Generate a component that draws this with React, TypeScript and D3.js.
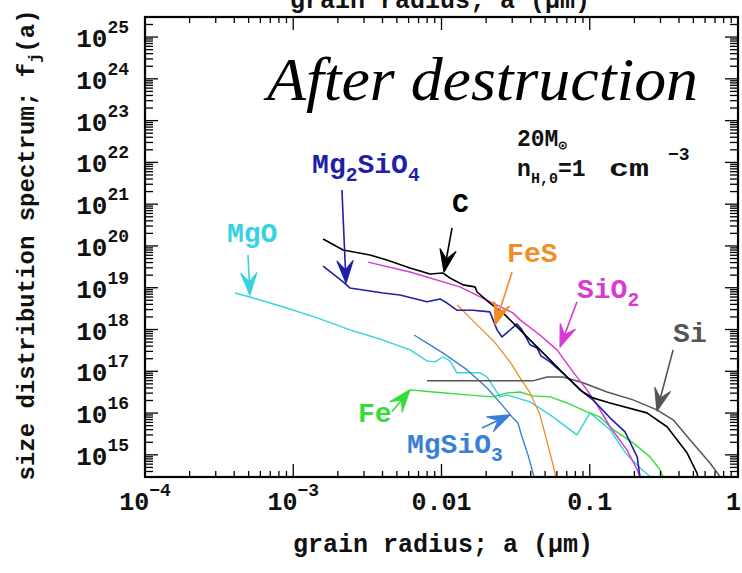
import React from "react";
import * as d3 from "d3";

// Plot frame (pixels)
const W = 742;
const H = 573;
const FRAME = { left: 145, right: 738, top: 17, bottom: 477 };

// Axis domains: grain radius (um) and size distribution f_j(a)
const X_DOMAIN: [number, number] = [1e-4, 1];
const Y_DOMAIN: [number, number] = [Math.pow(10, 14.47), Math.pow(10, 25.48)];

// Tick labels
const xTickValues = [1e-4, 1e-3, 0.01, 0.1, 1];
const xTickBase = ["10", "10", "0.01", "0.1", "1"];
const xTickExp = ["\u22124", "\u22123", "", "", ""];
const yTickExponents = [15, 16, 17, 18, 19, 20, 21, 22, 23, 24, 25];

// Size distributions after destruction, [a (um), f_j(a)]
const carbon: [number, number][] = [
  [1.59e-3, 1.47e20], [2.17e-3, 8.0e19], [3.29e-3, 6.1e19], [4.28e-3, 4.6e19],
  [6.13e-3, 2.98e19], [8.36e-3, 2.14e19], [0.0102, 2.26e19], [0.0114, 1.71e19],
  [0.014, 1.17e19], [0.0168, 1.05e19], [0.0174, 7.9e18], [0.0212, 4.3e18],
  [0.026, 2.5e18], [0.0339, 9.8e17], [0.0414, 4.8e17], [0.054, 1.87e17],
  [0.0703, 7.3e16], [0.0899, 3.2e16], [0.105, 2.31e16], [0.137, 1.75e16],
  [0.243, 1.01e16], [0.332, 4.7e15], [0.453, 1.12e15], [0.528, 3.7e14], [0.537, 3.0e14],
];

const forsterite: [number, number][] = [
  [1.59e-3, 3.3e19], [2.17e-3, 1.38e19], [2.41e-3, 9.9e18], [4.03e-3, 7.5e18],
  [5.25e-3, 6.7e18], [7.98e-3, 4.6e18], [9.77e-3, 5.4e18], [0.0109, 4.3e18],
  [0.0127, 2.9e18], [0.0163, 2.9e18], [0.0212, 2.64e18], [0.0237, 9.8e17],
  [0.0256, 6.65e17], [0.0323, 1.36e18], [0.0349, 9.8e17], [0.0396, 4.3e17],
  [0.0441, 3.6e17], [0.0469, 2.33e17], [0.054, 1.68e17], [0.0703, 7.3e16],
  [0.0859, 3.6e16], [0.105, 2.07e16], [0.137, 7.7e15], [0.173, 3.55e15],
  [0.209, 8.96e14], [0.218, 3.0e14],
];

const silica: [number, number][] = [
  [3.19e-3, 4.1e19], [6.13e-3, 2.39e19], [0.0133, 1.05e19], [0.0222, 4.3e18],
  [0.0303, 2.5e18], [0.0339, 1.7e18], [0.0461, 7.4e17], [0.0601, 3.25e17],
  [0.0771, 9.7e16], [0.0957, 3.6e16], [0.112, 1.57e16], [0.137, 4.7e15],
  [0.178, 1.32e15], [0.209, 4.4e14], [0.218, 3.0e14],
];

const troilite: [number, number][] = [
  [0.0127, 3.9e18], [0.0174, 1.29e18], [0.023, 4.8e17], [0.029, 1.68e17],
  [0.0339, 6.95e16], [0.0396, 3.04e16], [0.0461, 9.1e15], [0.0522, 1.73e15],
  [0.0565, 5.8e14], [0.0591, 3.0e14],
];

const periclase: [number, number][] = [
  [4.05e-4, 7.5e18], [5.1e-4, 6.0e18], [8.5e-4, 3.5e18], [1.45e-3, 1.9e18],
  [2.41e-3, 9.8e17], [4.03e-3, 5.6e17], [6.13e-3, 3.25e17], [7.98e-3, 1.77e17],
  [9.04e-3, 1.68e17], [0.0102, 2.2e17], [0.0114, 1.77e17], [0.0127, 9.2e16],
  [0.0182, 9.2e16], [0.0203, 7.3e16], [0.0248, 2.44e16], [0.0277, 2.72e16],
  [0.0396, 1.85e16], [0.0565, 8.1e15], [0.082, 3.0e15], [0.1005, 1.01e16],
  [0.137, 4.0e15], [0.178, 1.0e15], [0.218, 4.9e14], [0.255, 3.0e14],
];

const iron: [number, number][] = [
  [6.13e-3, 3.6e16], [8.77e-3, 3.2e16], [0.0149, 2.72e16], [0.0222, 2.44e16],
  [0.0277, 3.04e16], [0.0339, 3.2e16], [0.0414, 2.58e16], [0.054, 2.44e16],
  [0.0703, 1.75e16], [0.0957, 1.07e16], [0.117, 8.1e15], [0.144, 4.0e15],
  [0.196, 1.94e15], [0.255, 8.96e14], [0.298, 4.4e14], [0.312, 3.0e14],
];

const silicon: [number, number][] = [
  [7.98e-3, 5.9e16], [0.0414, 5.9e16], [0.0515, 7.3e16], [0.0661, 7.3e16],
  [0.0899, 5.3e16], [0.131, 3.2e16], [0.196, 2.07e16], [0.284, 1.19e16],
  [0.365, 6.9e15], [0.474, 2.29e15], [0.647, 6.4e14], [0.757, 3.0e14],
];

const enstatite: [number, number][] = [
  [6.53e-3, 7.4e17], [8.36e-3, 4.3e17], [0.0102, 2.75e17], [0.0149, 1.08e17],
  [0.0203, 4.0e16], [0.0256, 1.57e16], [0.0299, 8.1e15], [0.0328, 5.8e15],
  [0.0349, 2.7e15], [0.0383, 1.0e15], [0.0421, 3.0e14],
];

type Part = [string, "" | "sub" | "sup"];

interface Species {
  data: [number, number][];
  color: string;
  width: number;
  label: Part[];
  labelAt: [number, number]; // [a, f] of label's left baseline
  arrowFrom: [number, number];
  arrowTo: [number, number];
}

const species: Species[] = [
  {
    data: periclase, color: "#35d3df", width: 1.4,
    label: [["MgO", ""]], labelAt: [3.57e-4, 1.25e20],
    arrowFrom: [4.95e-4, 6.1e19], arrowTo: [5.1e-4, 6.7e18],
  },
  {
    data: enstatite, color: "#3a7fd6", width: 1.4,
    label: [["MgSiO", ""], ["3", "sub"]], labelAt: [5.85e-3, 1.12e15],
    arrowFrom: [0.01875, 4.4e15], arrowTo: [0.029, 9.1e15],
  },
  {
    data: iron, color: "#33dd33", width: 1.4,
    label: [["Fe", ""]], labelAt: [2.73e-3, 6.15e15],
    arrowFrom: [4.63e-3, 1.07e16], arrowTo: [6.13e-3, 3.6e16],
  },
  {
    data: troilite, color: "#f08d24", width: 1.3,
    label: [["FeS", ""]], labelAt: [0.0277, 4.1e19],
    arrowFrom: [0.0299, 2.39e19], arrowTo: [0.023, 1.29e18],
  },
  {
    data: silicon, color: "#555555", width: 1.5,
    label: [["Si", ""]], labelAt: [0.365, 5.05e17],
    arrowFrom: [0.365, 3.25e17], arrowTo: [0.284, 1.13e16],
  },
  {
    data: silica, color: "#d83ad2", width: 1.5,
    label: [["SiO", ""], ["2", "sub"]], labelAt: [0.082, 5.7e18],
    arrowFrom: [0.082, 4.6e18], arrowTo: [0.063, 3.8e17],
  },
  {
    data: forsterite, color: "#1f1fa8", width: 1.6,
    label: [["Mg", ""], ["2", "sub"], ["SiO", ""], ["4", "sub"]], labelAt: [1.34e-3, 5.6e21],
    arrowFrom: [2.13e-3, 2.19e21], arrowTo: [2.27e-3, 1.3e19],
  },
  {
    data: carbon, color: "#000000", width: 1.6,
    label: [["C", ""]], labelAt: [0.01178, 6.5e20],
    arrowFrom: [0.01178, 2.7e20], arrowTo: [0.0104, 2.39e19],
  },
];

const MONO = "'Liberation Mono', 'DejaVu Sans Mono', monospace";

function Arrow({ x0, y0, x1, y1, color }: { x0: number; y0: number; x1: number; y1: number; color: string }) {
  const dx = x1 - x0;
  const dy = y1 - y0;
  const len = Math.hypot(dx, dy);
  const ux = dx / len;
  const uy = dy / len;
  const nx = -uy;
  const ny = ux;
  const L = 22;
  const w = 8;
  const notch = 13;
  const lx = x1 - L * ux + w * nx;
  const ly = y1 - L * uy + w * ny;
  const rx = x1 - L * ux - w * nx;
  const ry = y1 - L * uy - w * ny;
  const mx = x1 - notch * ux;
  const my = y1 - notch * uy;
  return (
    <g>
      <line x1={x0} y1={y0} x2={mx} y2={my} stroke={color} strokeWidth={1.6} />
      <path d={`M${x1},${y1}L${lx},${ly}L${mx},${my}L${rx},${ry}Z`} fill={color} stroke={color} strokeWidth={1.2} strokeLinejoin="round" />
    </g>
  );
}

function Label({ x, y, parts, color, size }: { x: number; y: number; parts: Part[]; color: string; size: number }) {
  let shift = 0;
  const spans = parts.map(([t, kind], i) => {
    const target = kind === "sub" ? size * 0.3 : kind === "sup" ? -size * 0.45 : 0;
    const dy = target - shift;
    shift = target;
    return (
      <tspan key={i} dy={dy} fontSize={kind ? size * 0.7 : size}>
        {t}
      </tspan>
    );
  });
  return (
    <text x={x} y={y} fill={color} fontFamily={MONO} fontWeight="bold" fontSize={size}>
      {spans}
    </text>
  );
}

export default function App() {
  const x = d3.scaleLog().domain(X_DOMAIN).range([FRAME.left, FRAME.right]);
  const y = d3.scaleLog().domain(Y_DOMAIN).range([FRAME.bottom, FRAME.top]);

  const line = d3
    .line<[number, number]>()
    .x((d) => x(d[0]))
    .y((d) => y(d[1]));

  // Minor and major tick positions
  const xTicks: { v: number; major: boolean }[] = [];
  for (let e = -4; e <= 0; e++) {
    for (let m = 1; m <= 9; m++) {
      const v = m * Math.pow(10, e);
      if (v >= X_DOMAIN[0] * 0.999 && v <= X_DOMAIN[1] * 1.001) xTicks.push({ v, major: m === 1 });
    }
  }
  const yTicks: { v: number; major: boolean }[] = [];
  for (let e = 14; e <= 25; e++) {
    for (let m = 1; m <= 9; m++) {
      const v = m * Math.pow(10, e);
      if (v >= Y_DOMAIN[0] && v <= Y_DOMAIN[1]) yTicks.push({ v, major: m === 1 });
    }
  }

  const plotW = FRAME.right - FRAME.left;
  const plotH = FRAME.bottom - FRAME.top;
  const lastTick = xTickValues.length - 1;

  return (
    <svg
      width={W}
      height={H}
      viewBox={`0 0 ${W} ${H}`}
      style={{ position: "absolute", left: 0, top: 0, background: "#ffffff" }}
    >
      <rect x={0} y={0} width={W} height={H} fill="#ffffff" />
      <defs>
        <clipPath id="plot-clip">
          <rect x={FRAME.left} y={FRAME.top} width={plotW} height={plotH} />
        </clipPath>
      </defs>

      {/* axis title of the panel above, running off the page top */}
      <text x={440} y={8} textAnchor="middle" fontFamily={MONO} fontWeight="bold" fontSize={25} fill="#111">
        grain radius; a (μm)
      </text>

      {/* size distribution curves */}
      <g clipPath="url(#plot-clip)">
        {species.map((s, i) => (
          <path key={i} d={line(s.data) || ""} fill="none" stroke={s.color} strokeWidth={s.width} strokeLinejoin="round" />
        ))}
      </g>

      {/* ticks on all four sides */}
      <g stroke="#000" strokeWidth={1.3}>
        {xTicks.map((t, i) => {
          const px = x(t.v);
          const len = t.major ? 13 : 6;
          return (
            <g key={i}>
              <line x1={px} x2={px} y1={FRAME.bottom} y2={FRAME.bottom - len} />
              <line x1={px} x2={px} y1={FRAME.top} y2={FRAME.top + len} />
            </g>
          );
        })}
        {yTicks.map((t, i) => {
          const py = y(t.v);
          const len = t.major ? 13 : 8;
          return (
            <g key={i}>
              <line x1={FRAME.left} x2={FRAME.left + len} y1={py} y2={py} />
              <line x1={FRAME.right} x2={FRAME.right - len} y1={py} y2={py} />
            </g>
          );
        })}
      </g>
      <rect x={FRAME.left} y={FRAME.top} width={plotW} height={plotH} fill="none" stroke="#000" strokeWidth={2.2} />

      {/* y tick labels */}
      {yTickExponents.map((e) => {
        const py = y(Math.pow(10, e));
        return (
          <text key={e} x={129} y={py + 10} textAnchor="end" fontFamily={MONO} fontWeight="bold" fontSize={26} fill="#111">
            <tspan>10</tspan>
            <tspan dy={-14} fontSize={18}>{e}</tspan>
          </text>
        );
      })}

      {/* x tick labels (the last one kept inside the page edge) */}
      {xTickValues.map((v, i) => (
        <text
          key={i}
          x={i === lastTick ? W - 1 : x(v)}
          y={510}
          textAnchor={i === lastTick ? "end" : "middle"}
          fontFamily={MONO}
          fontWeight="bold"
          fontSize={25}
          fill="#111"
        >
          <tspan>{xTickBase[i]}</tspan>
          {xTickExp[i] ? (
            <tspan dy={-14} fontSize={18}>{xTickExp[i]}</tspan>
          ) : null}
        </text>
      ))}

      {/* axis titles */}
      <text x={443} y={552} textAnchor="middle" fontFamily={MONO} fontWeight="bold" fontSize={25} fill="#111">
        grain radius; a (μm)
      </text>
      <text
        transform="translate(34,245) rotate(-90)"
        textAnchor="middle"
        fontFamily={MONO}
        fontWeight="bold"
        fontSize={24}
        fill="#111"
      >
        <tspan>size distribution spectrum; f</tspan>
        <tspan dy={6} fontSize={17}>j</tspan>
        <tspan dy={-6}>(a)</tspan>
      </text>

      {/* species labels and arrows */}
      {species.map((s, i) => (
        <g key={i}>
          <Arrow
            x0={x(s.arrowFrom[0])}
            y0={y(s.arrowFrom[1])}
            x1={x(s.arrowTo[0])}
            y1={y(s.arrowTo[1])}
            color={s.color}
          />
          <Label x={x(s.labelAt[0])} y={y(s.labelAt[1])} parts={s.label} color={s.color} size={28} />
        </g>
      ))}

      {/* model parameters */}
      <text x={517} y={146} fontFamily={MONO} fontWeight="bold" fontSize={23} fill="#111">
        <tspan>20M</tspan>
        <tspan dy={4} fontSize={14}>⊙</tspan>
      </text>
      <text y={176} fontFamily={MONO} fontWeight="bold" fontSize={23} fill="#111">
        <tspan x={517}>n</tspan>
        <tspan x={531} dy={7} fontSize={15}>H,0</tspan>
        <tspan x={558} dy={-7}>=1</tspan>
        <tspan x={609} textLength={40} lengthAdjust="spacingAndGlyphs">cm</tspan>
        <tspan x={668} dy={-16} fontSize={18}>−3</tspan>
      </text>

      {/* panel title */}
      <text
        x={267}
        y={100}
        fontFamily="'Liberation Serif', 'Times New Roman', serif"
        fontStyle="italic"
        fontSize={62}
        textLength={431}
        lengthAdjust="spacingAndGlyphs"
        fill="#000"
      >
        After destruction
      </text>
    </svg>
  );
}
